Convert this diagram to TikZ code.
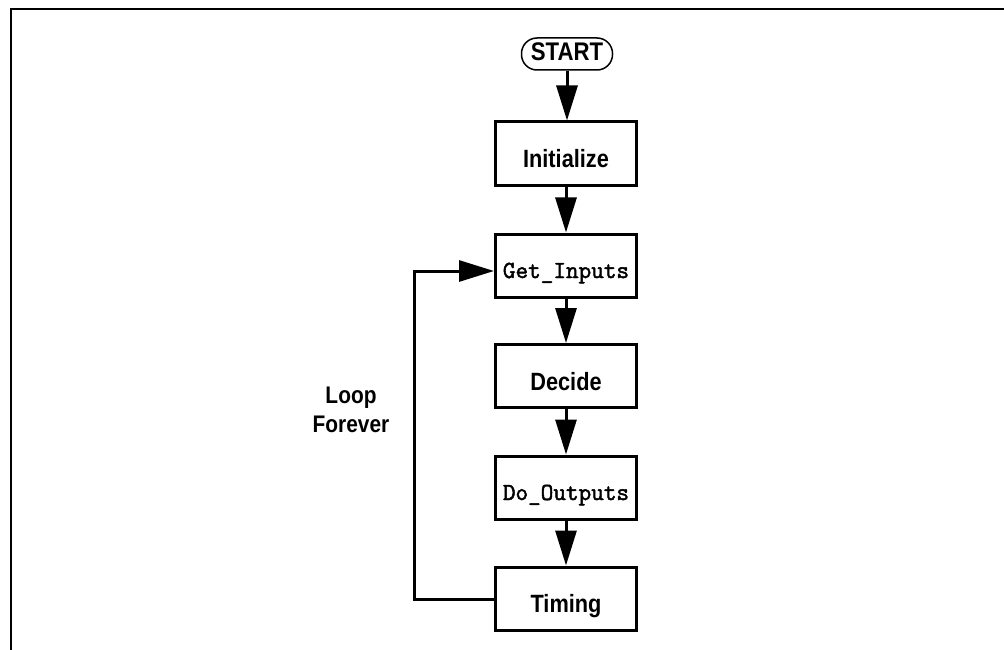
\documentclass[tikz,border=0pt]{standalone}
\usepackage{fontspec}
\setmainfont{Liberation Sans}[FakeStretch=0.87]
\setmonofont{Latin Modern Mono}[FakeBold=2]
\usetikzlibrary{arrows.meta}
\begin{document}
\begin{tikzpicture}[x=1bp,y=-1bp,
  box/.style={draw, line width=3bp, minimum width=141bp, minimum height=63bp,
    inner sep=0pt, text height=28bp, text depth=0bp,
    font=\fontsize{25bp}{28bp}\selectfont\bfseries},
  codebox/.style={box, text height=25bp, font=\fontsize{24.5bp}{26bp}\selectfont\ttfamily},
  startbox/.style={draw, line width=1.5bp, rounded corners=15.5bp, minimum width=91bp,
    minimum height=32bp, inner sep=0pt, text height=18bp, text depth=5bp,
    font=\fontsize{25.5bp}{28bp}\selectfont\bfseries},
  flow/.style={line width=3bp, -{Triangle[length=35bp,width=21bp]}},
  lbl/.style={align=center, font=\fontsize{24bp}{29bp}\selectfont\bfseries}]
\useasboundingbox (0,0) rectangle (1004,650);
% frame
\draw[line width=2.5bp] (11,652) -- (11,9) -- (1006,9);
% nodes
\node[startbox] (start) at (567,54) {START};
\node[box] (init) at (566,153.5) {Initialize};
\node[codebox] (get) at (566,265.5) {Get\_Inputs};
\node[box] (dec) at (566,376) {Decide};
\node[codebox] (out) at (566,487.5) {Do\_Outputs};
\node[box] (tim) at (566,598.5) {Timing};
\node[lbl] (loop) at (351,410) {Loop\\Forever};
% connectors
\draw[flow] (start.south) -- (start.south |- init.north);
\draw[flow] (init) -- (get);
\draw[flow] (get) -- (dec);
\draw[flow] (dec) -- (out);
\draw[flow] (out) -- (tim);
\coordinate (c1) at (414,599.5);
\coordinate (c2) at (414,271);
\draw[flow] (tim.west |- c1) -- (c1) -- (c2) -- (get.west |- c2);
\end{tikzpicture}
\end{document}
